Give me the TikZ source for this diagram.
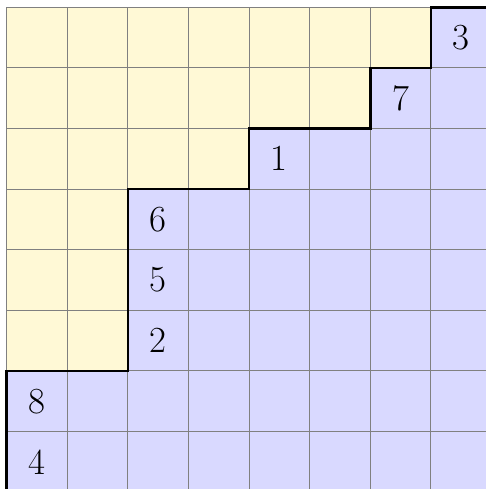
\documentclass[tikz,border=0pt]{standalone}
\usetikzlibrary{positioning}
\definecolor{cyellow}{HTML}{FFF9D6}
\definecolor{cblue}{HTML}{D9D9FF}
\definecolor{cgrid}{HTML}{808080}
\tikzset{
  every picture/.style={line width=0.4pt},
  gridline/.style={draw=cgrid, line width=0.4pt},
  stair/.style={draw=black, line width=1.2pt, line join=miter},
  entry/.style={font=\LARGE, inner sep=0pt},
}
\begin{document}
\begin{tikzpicture}
  \clip (-0.11,0.05) rectangle (7.91,8.12);
  % regions
  \fill[cblue] (0,0) rectangle (8,8);
  \fill[cyellow] (0,2) -- (2,2) -- (2,5) -- (4,5) -- (4,6) -- (6,6) -- (6,7) -- (7,7) -- (7,8) -- (0,8) -- cycle;
  % grid
  \draw[gridline] (0,0) grid (8,8);
  % boundary
  \draw[stair] (0,0) -- (0,2) -- (2,2) -- (2,5) -- (4,5) -- (4,6) -- (6,6) -- (6,7) -- (7,7) -- (7,8) -- (8,8);
  % entries
  \foreach \x/\y/\l in {7/7/3, 6/6/7, 4/5/1, 2/4/6, 2/3/5, 2/2/2, 0/1/8, 0/0/4}
    \node[entry] (n\l) at (\x+0.5,\y+0.5) {\l};
\end{tikzpicture}
\end{document}
